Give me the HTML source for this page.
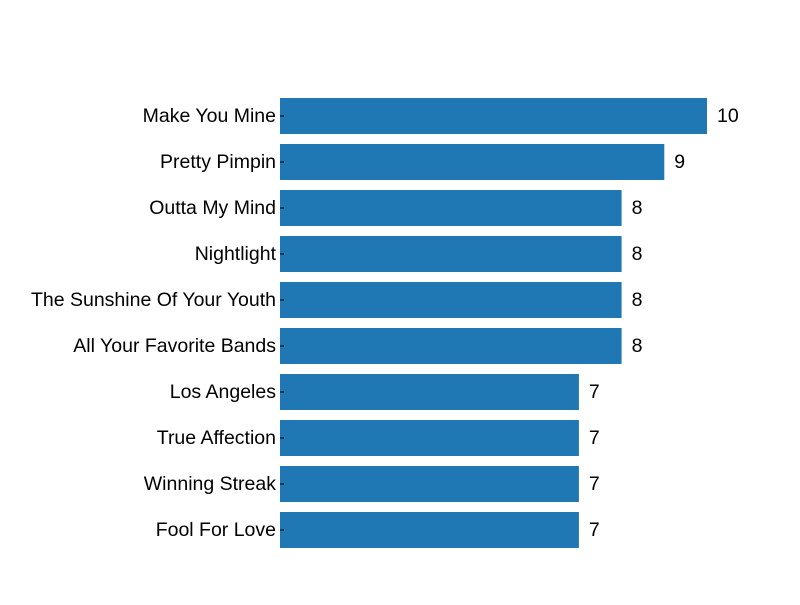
<!DOCTYPE html>
<html><head><meta charset="utf-8"><style>
body{margin:0;background:#fff;}
svg text{font-family:"Liberation Sans",sans-serif;font-size:19.5px;fill:#000;}
</style></head><body>
<svg id="chart" width="800" height="600"></svg>
<script>
const categories=["Make You Mine","Pretty Pimpin","Outta My Mind","Nightlight","The Sunshine Of Your Youth","All Your Favorite Bands","Los Angeles","True Affection","Winning Streak","Fool For Love"];
const values=[10,9,8,8,8,8,7,7,7,7];
const svg=document.getElementById('chart');
const NS="http://www.w3.org/2000/svg";
const x0=280,pxPerUnit=42.7,top0=116,step=46,barH=36;
const xs=v=>x0+v*pxPerUnit;
const yc=i=>top0+i*step;
categories.forEach((c,i)=>{
  const r=document.createElementNS(NS,'rect');
  r.setAttribute('x',x0);r.setAttribute('y',yc(i)-barH/2);
  r.setAttribute('width',xs(values[i])-x0);r.setAttribute('height',barH);
  r.setAttribute('fill','#1f77b4');
  
  
  svg.appendChild(r);
  const t=document.createElementNS(NS,'line');
  t.setAttribute('x1',x0);t.setAttribute('x2',x0+4);t.setAttribute('y1',yc(i));t.setAttribute('y2',yc(i));
  t.setAttribute('stroke','#000');
  
  
  svg.appendChild(t);
  const l=document.createElementNS(NS,'text');
  l.setAttribute('x',276);l.setAttribute('y',yc(i)+6);l.setAttribute('text-anchor','end');
  l.textContent=c;
  
  
  svg.appendChild(l);
  const v=document.createElementNS(NS,'text');
  v.setAttribute('x',xs(values[i])+10);v.setAttribute('y',yc(i)+6);
  v.textContent=values[i];
  
  
  svg.appendChild(v);
});
</script>
</body></html>
